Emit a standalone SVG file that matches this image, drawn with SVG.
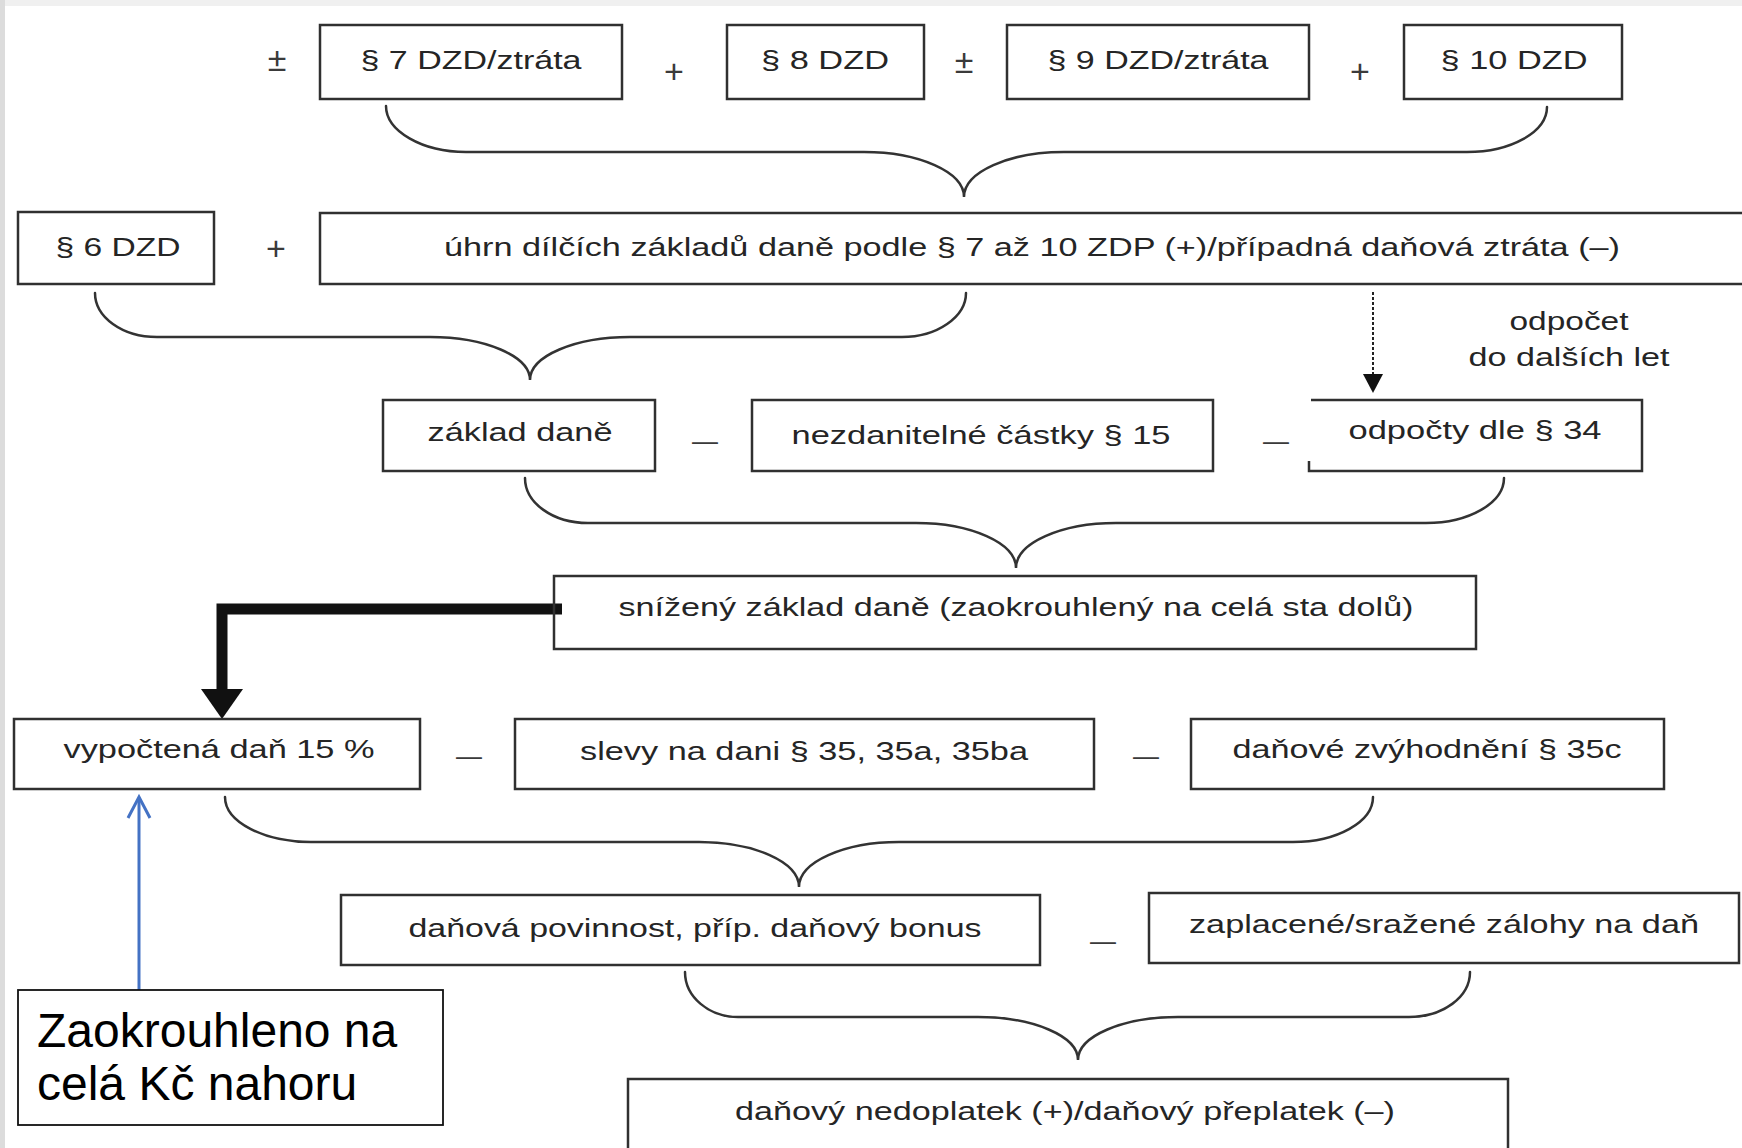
<svg xmlns="http://www.w3.org/2000/svg" width="1742" height="1148" viewBox="0 0 1742 1148">
<style>
.bx{fill:none;stroke:#303030;stroke-width:2.5}
.t{font-family:"Liberation Sans",Arial,sans-serif;font-size:25px;fill:#252525;text-anchor:middle}
.op{font-family:"Liberation Sans",Arial,sans-serif;font-size:34px;fill:#3a3a3a;text-anchor:middle}
.mn{font-family:"Liberation Sans",Arial,sans-serif;font-size:27px;fill:#3a3a3a;text-anchor:middle}
.br{fill:none;stroke:#333;stroke-width:2.5;stroke-linecap:round}
.call{font-family:"Liberation Sans",Arial,sans-serif;font-size:48px;fill:#000}
</style>
<rect x="0" y="0" width="1742" height="1148" fill="#ffffff"/>
<rect x="0" y="0" width="1742" height="6" fill="#f0f0f0"/>
<rect x="0" y="0" width="5" height="1148" fill="#dcdcdc"/>

<g id="connectors">
  <path class="br" d="M386 106 C386 131 422 152 466 152 L864 152 C919 152 964 172 964 197 C964 172 1009 152 1064 152 L1467 152 C1511 152 1547 132 1547 107"/>
  <path class="br" d="M95 293 C95 317 122 337 157 337 L430 337 C485 337 530 356 530 380 C530 356 575 337 630 337 L902 337 C937 337 966 317 966 293"/>
  <path class="br" d="M525 478 C525 503 553 523 588 523 L916 523 C971 523 1016 543 1016 568 C1016 543 1061 523 1116 523 L1426 523 C1469 523 1504 503 1504 478"/>
  <path class="br" d="M225 797 C225 822 264 842 311 842 L699 842 C754 842 799 862 799 887 C799 862 844 842 899 842 L1293 842 C1337 842 1373 822 1373 797"/>
  <path class="br" d="M685 972 C685 997 709 1017 738 1017 L978 1017 C1033 1017 1078 1036 1078 1060 C1078 1036 1123 1017 1178 1017 L1409 1017 C1443 1017 1470 997 1470 972"/>
  <line x1="1373" y1="292" x2="1373" y2="376" stroke="#222" stroke-width="2" stroke-dasharray="3 2"/>
  <polygon points="1363,374 1383,374 1373,393" fill="#111"/>
  <polyline points="562,609 222,609 222,692" fill="none" stroke="#111" stroke-width="11" stroke-linejoin="miter"/>
  <polygon points="201,689 243,689 222,719" fill="#111"/>
  <line x1="139" y1="990" x2="139" y2="798" stroke="#4472C4" stroke-width="3"/>
  <polyline points="128,818 139,797 150,818" fill="none" stroke="#4472C4" stroke-width="3" stroke-linejoin="miter"/>
</g>

<g id="operators">
  <text class="op" x="277" y="71">±</text>
  <text class="op" x="674" y="83">+</text>
  <text class="op" x="964" y="73">±</text>
  <text class="op" x="1360" y="83">+</text>
  <text class="op" x="276" y="260">+</text>
  <text class="mn" x="705" y="450" textLength="26" lengthAdjust="spacingAndGlyphs">–</text>
  <text class="mn" x="1276" y="450" textLength="26" lengthAdjust="spacingAndGlyphs">–</text>
  <text class="mn" x="469" y="765" textLength="26" lengthAdjust="spacingAndGlyphs">–</text>
  <text class="mn" x="1146" y="765" textLength="26" lengthAdjust="spacingAndGlyphs">–</text>
  <text class="mn" x="1103" y="950" textLength="26" lengthAdjust="spacingAndGlyphs">–</text>
</g>

<g id="n-p7">
  <rect class="bx" x="320" y="25" width="302" height="74"/>
  <text class="t" x="471" y="69" textLength="221" lengthAdjust="spacingAndGlyphs">§ 7 DZD/ztráta</text>
</g>
<g id="n-p8">
  <rect class="bx" x="727" y="25" width="197" height="74"/>
  <text class="t" x="825" y="69" textLength="128" lengthAdjust="spacingAndGlyphs">§ 8 DZD</text>
</g>
<g id="n-p9">
  <rect class="bx" x="1007" y="25" width="302" height="74"/>
  <text class="t" x="1158" y="69" textLength="221" lengthAdjust="spacingAndGlyphs">§ 9 DZD/ztráta</text>
</g>
<g id="n-p10">
  <rect class="bx" x="1404" y="25" width="218" height="74"/>
  <text class="t" x="1514" y="69" textLength="147" lengthAdjust="spacingAndGlyphs">§ 10 DZD</text>
</g>
<g id="n-p6">
  <rect class="bx" x="18" y="212" width="196" height="72"/>
  <text class="t" x="118" y="256" textLength="125" lengthAdjust="spacingAndGlyphs">§ 6 DZD</text>
</g>
<g id="n-sum">
  <rect class="bx" x="320" y="213" width="1440" height="71"/>
  <text class="t" x="1032" y="256" textLength="1176" lengthAdjust="spacingAndGlyphs">úhrn dílčích základů daně podle § 7 až 10 ZDP (+)/případná daňová ztráta (–)</text>
</g>
<g id="n-odpocet-label">
  <text class="t" x="1569" y="330" textLength="119" lengthAdjust="spacingAndGlyphs">odpočet</text>
  <text class="t" x="1569" y="366" textLength="201" lengthAdjust="spacingAndGlyphs">do dalších let</text>
</g>
<g id="n-zaklad">
  <rect class="bx" x="383" y="400" width="272" height="71"/>
  <text class="t" x="520" y="441" textLength="185" lengthAdjust="spacingAndGlyphs">základ daně</text>
</g>
<g id="n-nezdan">
  <rect class="bx" x="752" y="400" width="461" height="71"/>
  <text class="t" x="981" y="444" textLength="379" lengthAdjust="spacingAndGlyphs">nezdanitelné částky § 15</text>
</g>
<g id="n-odpocty">
  <path class="bx" d="M1311 400 L1642 400 L1642 471 L1309 471 L1309 461"/>
  <text class="t" x="1475" y="439" textLength="253" lengthAdjust="spacingAndGlyphs">odpočty dle § 34</text>
</g>
<g id="n-snizeny">
  <rect class="bx" x="554" y="576" width="922" height="73"/>
  <text class="t" x="1016" y="616" textLength="795" lengthAdjust="spacingAndGlyphs">snížený základ daně (zaokrouhlený na celá sta dolů)</text>
</g>
<g id="n-vypoctena">
  <rect class="bx" x="14" y="719" width="406" height="70"/>
  <text class="t" x="219" y="758" textLength="311" lengthAdjust="spacingAndGlyphs">vypočtená daň 15 %</text>
</g>
<g id="n-slevy">
  <rect class="bx" x="515" y="719" width="579" height="70"/>
  <text class="t" x="804" y="760" textLength="448" lengthAdjust="spacingAndGlyphs">slevy na dani § 35, 35a, 35ba</text>
</g>
<g id="n-zvyhodneni">
  <rect class="bx" x="1191" y="719" width="473" height="70"/>
  <text class="t" x="1427" y="758" textLength="389" lengthAdjust="spacingAndGlyphs">daňové zvýhodnění § 35c</text>
</g>
<g id="n-povinnost">
  <rect class="bx" x="341" y="895" width="699" height="70"/>
  <text class="t" x="695" y="937" textLength="573" lengthAdjust="spacingAndGlyphs">daňová povinnost, příp. daňový bonus</text>
</g>
<g id="n-zalohy">
  <rect class="bx" x="1149" y="893" width="590" height="70"/>
  <text class="t" x="1444" y="933" textLength="510" lengthAdjust="spacingAndGlyphs">zaplacené/sražené zálohy na daň</text>
</g>
<g id="n-vysledek">
  <rect class="bx" x="628" y="1079" width="880" height="90"/>
  <text class="t" x="1065" y="1120" textLength="660" lengthAdjust="spacingAndGlyphs">daňový nedoplatek (+)/daňový přeplatek (–)</text>
</g>
<g id="n-callout">
  <rect x="18" y="990" width="425" height="135" fill="#ffffff" stroke="#111" stroke-width="1.8"/>
  <text class="call" x="37" y="1047">Zaokrouhleno na</text>
  <text class="call" x="37" y="1100">celá Kč nahoru</text>
</g>
</svg>
